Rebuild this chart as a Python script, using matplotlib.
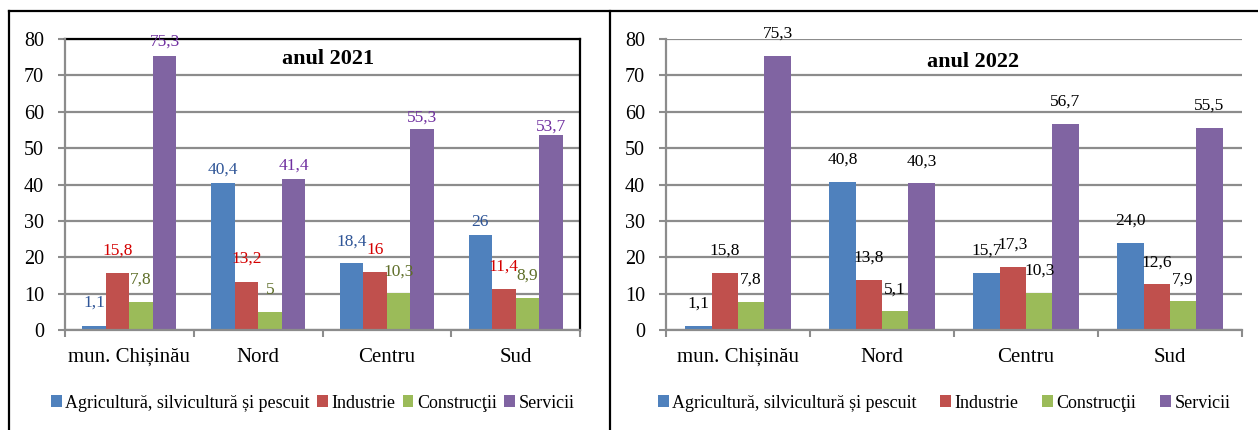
import numpy as np
import matplotlib
matplotlib.use("Agg")
from matplotlib import pyplot as plt
from matplotlib.lines import Line2D

plt.rcParams['font.family'] = ['Liberation Serif', 'DejaVu Serif']

categories = ['mun. Chișinău', 'Nord', 'Centru', 'Sud']
series = ['Agricultură, silvicultură și pescuit', 'Industrie', 'Construcţii', 'Servicii']

agri_2021 = [1.1, 40.4, 18.4, 26]
ind_2021 = [15.8, 13.2, 16, 11.4]
constr_2021 = [7.8, 5, 10.3, 8.9]
serv_2021 = [75.3, 41.4, 55.3, 53.7]

agri_2022 = [1.1, 40.8, 15.7, 24.0]
ind_2022 = [15.8, 13.8, 17.3, 12.6]
constr_2022 = [7.8, 5.1, 10.3, 7.9]
serv_2022 = [75.3, 40.3, 56.7, 55.5]

yticks = [0, 10, 20, 30, 40, 50, 60, 70, 80]

bar_colors = ['#4F81BD', '#C0504D', '#9BBB59', '#8064A2']
label_colors_2021 = ['#2F5597', '#D40000', '#5E6E28', '#7030A0']
grid_col = '#8C8C8C'

# label distance above bar top (px), left chart is a bit irregular
off_2021 = [[23, 13, 21, 13], [22, 23, 22, 22], [22, 22, 21, 22], [14, 14, 11, 8]]
off_2022 = 22

W, H = 1258, 430
fig = plt.figure(figsize=(W / 100, H / 100), dpi=100)


def fmt21(v):
    return ('%g' % v).replace('.', ',')


def fmt22(v):
    return ('%.1f' % v).replace('.', ',')


def draw(ax, data, title, title_pos, fmt, lab_colors, offsets, boxed):
    x = np.arange(len(categories))
    bw = 0.183
    for k, vals in enumerate(data):
        xs = x + (k - 1.5) * bw
        ax.bar(xs, vals, bw, color=bar_colors[k], zorder=3, label=series[k])
        for i, v in enumerate(vals):
            off = offsets[k][i] if isinstance(offsets, list) else offsets
            ax.annotate(fmt(v), (xs[i], v), xytext=(0, off * 0.72),
                        textcoords='offset points', ha='center', va='center',
                        fontsize=12.5, color=lab_colors[k], zorder=5,
                        annotation_clip=False)
    ax.set_xlim(-0.5, len(categories) - 0.5)
    ax.set_ylim(0, 80)
    ax.set_yticks(yticks)
    ax.set_xticks(x)
    ax.set_xticklabels(categories, fontsize=15)
    ax.set_xticks(np.arange(len(categories) + 1) - 0.5, minor=True)
    ax.tick_params(axis='x', which='major', length=0, pad=13)
    ax.tick_params(axis='x', which='minor', length=5, width=1.5, color=grid_col)
    ax.tick_params(axis='y', length=5, width=1.5, color=grid_col, labelsize=14.5, pad=10)
    ax.yaxis.grid(True, color=grid_col, lw=1.6, zorder=0)
    ax.set_axisbelow(True)
    for s in ['left', 'bottom']:
        ax.spines[s].set_color(grid_col)
        ax.spines[s].set_linewidth(1.6)
        ax.spines[s].set_zorder(4)
    for s in ['top', 'right']:
        if boxed:
            ax.spines[s].set_color('black')
            ax.spines[s].set_linewidth(1.6)
        else:
            ax.spines[s].set_visible(False)
    ax.text(title_pos[0], title_pos[1], title, transform=ax.transAxes,
            ha='center', va='center', fontsize=16, fontweight='bold', zorder=6)


ax1 = fig.add_axes([65 / W, 1 - 330 / H, 515 / W, 291 / H])
draw(ax1, [agri_2021, ind_2021, constr_2021, serv_2021], 'anul 2021', (0.51, 0.93),
     fmt21, label_colors_2021, off_2021, True)

ax2 = fig.add_axes([666 / W, 1 - 330 / H, 576 / W, 291 / H])
draw(ax2, [agri_2022, ind_2022, constr_2022, serv_2022], 'anul 2022', (0.533, 0.922),
     fmt22, ['black'] * 4, off_2022, False)

h, l = ax1.get_legend_handles_labels()
fig.legend(h, l, loc='center', bbox_to_anchor=(312.5 / W, 1 - 403 / H), ncol=4,
           frameon=False, fontsize=13, handlelength=0.6, handleheight=0.6,
           handletextpad=0.2, columnspacing=0.4)
h, l = ax2.get_legend_handles_labels()
fig.legend(h, l, loc='center', bbox_to_anchor=(944 / W, 1 - 403 / H), ncol=4,
           frameon=False, fontsize=13, handlelength=0.6, handleheight=0.6,
           handletextpad=0.2, columnspacing=1.3)

# outer frames
fig.add_artist(Line2D([8.5 / W, 8.5 / W], [0, 1 - 11 / H], color='black', lw=1.6))
fig.add_artist(Line2D([609.5 / W, 609.5 / W], [0, 1 - 11 / H], color='black', lw=1.6))
fig.add_artist(Line2D([8.5 / W, 1], [1 - 11 / H, 1 - 11 / H], color='black', lw=1.6))

fig.savefig('out.png', dpi=100)
